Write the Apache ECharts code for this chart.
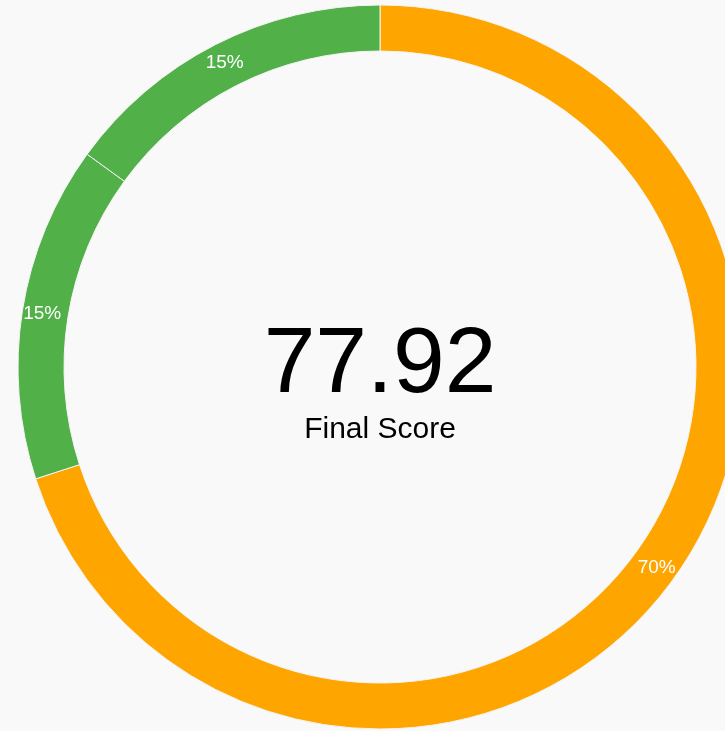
<!DOCTYPE html>
<html>
<head>
<meta charset="utf-8">
<script src="https://cdn.jsdelivr.net/npm/echarts@6/dist/echarts.min.js"></script>
<style>
html,body{margin:0;padding:0;background:#f9f9f9;}
#chart{width:725px;height:731px;}
</style>
</head>
<body>
<div id="chart"></div>
<script>
const sliceNames = ['A', 'B', 'C'];
const sliceValues = [70, 15, 15];
const sliceLabels = ['70%', '15%', '15%'];
const sliceColors = ['#FFA500', '#51B047', '#51B047'];
const scoreText = '77.92';
const scoreCaption = 'Final Score';

const chart = echarts.init(document.getElementById('chart'));
chart.setOption({
  backgroundColor: '#f9f9f9',
  animation: false,
  graphic: [
    {
      type: 'text', x: 380, y: 366,
      style: { text: scoreText, fill: '#000', font: '93px "Liberation Sans", Arial, sans-serif',
               textAlign: 'center', textVerticalAlign: 'middle' }
    },
    {
      type: 'text', x: 380, y: 430,
      style: { text: scoreCaption, fill: '#000', font: '30px "Liberation Sans", Arial, sans-serif',
               textAlign: 'center', textVerticalAlign: 'middle' }
    }
  ],
  series: [{
    type: 'pie',
    center: [380, 367],
    radius: [316, 362],
    startAngle: 90,
    clockwise: true,
    avoidLabelOverlap: false,
    itemStyle: { borderColor: '#f4f4f4', borderWidth: 1 },
    label: {
      show: true, position: 'inside', color: '#fff', fontSize: 19,
      fontFamily: '"Liberation Sans", Arial, sans-serif',
      formatter: p => sliceLabels[p.dataIndex]
    },
    labelLine: { show: false },
    emphasis: { disabled: true },
    data: sliceNames.map((n, i) => ({ name: n, value: sliceValues[i], itemStyle: { color: sliceColors[i] } }))
  }]
});
</script>
</body>
</html>
